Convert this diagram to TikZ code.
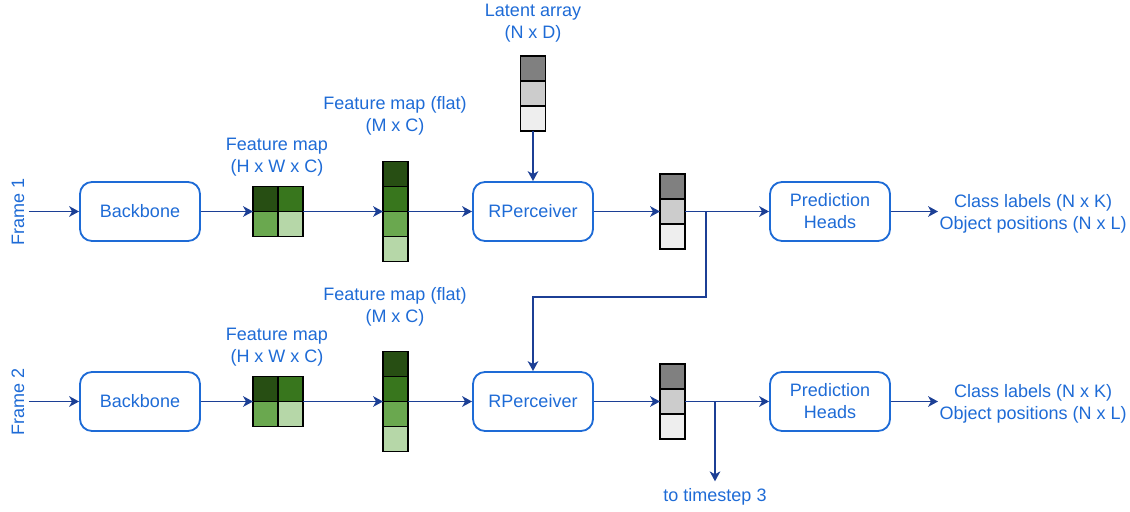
\documentclass[tikz,border=0pt]{standalone}
\usepackage{fontspec}
\setmainfont{Liberation Sans}
\usetikzlibrary{arrows.meta}
\definecolor{txtblue}{HTML}{1E6BD6}
\definecolor{linkblue}{HTML}{1C3F95}
\definecolor{gA}{HTML}{274E13}
\definecolor{gB}{HTML}{38761D}
\definecolor{gC}{HTML}{6AA84F}
\definecolor{gD}{HTML}{B6D7A8}
\definecolor{kA}{HTML}{808080}
\definecolor{kB}{HTML}{CCCCCC}
\definecolor{kC}{HTML}{EEEEEE}

\begin{document}
\begin{tikzpicture}[x=0.025cm,y=-0.025cm,
  font=\fontsize{12.8}{15.6}\selectfont,
  block/.style={draw=txtblue,text=txtblue,line width=1.3pt,rounded corners=0.3cm,
    minimum width=3cm,minimum height=1.475cm,align=center},
  lbl/.style={text=txtblue,align=center,inner sep=1pt},
  link/.style={draw=linkblue,line width=1.3pt,-{Stealth[length=7pt,width=7.5pt,inset=2pt]}},
  cell/.style={draw=black,line width=0.9pt,minimum size=0.625cm,inner sep=0pt,outer sep=0pt},
  stack/.style={minimum width=0.625cm,inner sep=0pt,outer sep=0pt}]
\useasboundingbox (0,0) rectangle (1130,512);

% timestep 1
  \node[lbl,rotate=90,inner sep=3pt] (fr1) at (18,211.5) {Frame 1};
  \node[block] (bb1) at (140,211.5) {Backbone};
  \node[stack,minimum height=1.25cm,minimum width=1.25cm] (fm1) at (278,211.5) {};
  \node[cell,fill=gA] at (265.5,199) {};
  \node[cell,fill=gB] at (290.5,199) {};
  \node[cell,fill=gC] at (265.5,224) {};
  \node[cell,fill=gD] at (290.5,224) {};
  \node[lbl] (fmt1) at (277,157) {Feature map\\(H x W x C)};
  \node[stack,minimum height=2.5cm] (fl1) at (395.5,211.5) {};
  \foreach \c [count=\i] in {gA,gB,gC,gD}
    \node[cell,fill=\c] at (395.5,{149+25*\i}) {};
  \node[lbl] (flt1) at (395,116) {Feature map (flat)\\(M x C)};

  \node[stack,minimum height=1.875cm] (lat) at (533,93.5) {};
  \foreach \c [count=\i] in {kA,kB,kC}
    \node[cell,fill=\c] at (533,{43.5+25*\i}) {};
  \node[lbl] (latt) at (533,23) {Latent array\\(N x D)};

  \node[block] (rp1) at (533,211.5) {RPerceiver};
  \node[stack,minimum height=1.875cm] (lo1) at (672.5,211.5) {};
  \foreach \c [count=\i] in {kA,kB,kC}
    \node[cell,fill=\c] at (672.5,{161.5+25*\i}) {};
  \node[block] (ph1) at (830,211.5) {Prediction\\Heads};
  \node[lbl,anchor=west] (out1) at (938,213.5) {Class labels (N x K)\\Object positions (N x L)};
  \coordinate (br1) at (706,297);

  \draw[link] (fr1.south) -- (bb1.west);
  \draw[link] (bb1.east) -- (fm1.west);
  \draw[link] (fm1.east) -- (fl1.west);
  \draw[link] (fl1.east) -- (rp1.west);
  \draw[link] (lat.south) -- (rp1.north);
  \draw[link] (rp1.east) -- (lo1.west);
  \draw[link] (lo1.east) -- (ph1.west);
  \draw[link] (ph1.east) -- (out1.west |- ph1.east);

% timestep 2
  \node[lbl,rotate=90,inner sep=3pt] (fr2) at (18,401.5) {Frame 2};
  \node[block] (bb2) at (140,401.5) {Backbone};
  \node[stack,minimum height=1.25cm,minimum width=1.25cm] (fm2) at (278,401.5) {};
  \node[cell,fill=gA] at (265.5,389) {};
  \node[cell,fill=gB] at (290.5,389) {};
  \node[cell,fill=gC] at (265.5,414) {};
  \node[cell,fill=gD] at (290.5,414) {};
  \node[lbl] (fmt2) at (277,347) {Feature map\\(H x W x C)};
  \node[stack,minimum height=2.5cm] (fl2) at (395.5,401.5) {};
  \foreach \c [count=\i] in {gA,gB,gC,gD}
    \node[cell,fill=\c] at (395.5,{339+25*\i}) {};
  \node[lbl] (flt2) at (395,307) {Feature map (flat)\\(M x C)};

  \node[block] (rp2) at (533,401.5) {RPerceiver};
  \node[stack,minimum height=1.875cm] (lo2) at (672.5,401.5) {};
  \foreach \c [count=\i] in {kA,kB,kC}
    \node[cell,fill=\c] at (672.5,{351.5+25*\i}) {};
  \node[block] (ph2) at (830,401.5) {Prediction\\Heads};
  \node[lbl,anchor=west] (out2) at (938,403.5) {Class labels (N x K)\\Object positions (N x L)};
  \node[lbl,inner sep=5pt] (ts3) at (715,497) {to timestep 3};

  \draw[link] (fr2.south) -- (bb2.west);
  \draw[link] (bb2.east) -- (fm2.west);
  \draw[link] (fm2.east) -- (fl2.west);
  \draw[link] (fl2.east) -- (rp2.west);
  \draw[link] (lo1.east -| br1) -- (br1) -| (rp2.north);
  \draw[link] (rp2.east) -- (lo2.west);
  \draw[link] (lo2.east) -- (ph2.west);
  \draw[link] (lo2.east -| ts3) -- (ts3.north);
  \draw[link] (ph2.east) -- (out2.west |- ph2.east);
\end{tikzpicture}
\end{document}
